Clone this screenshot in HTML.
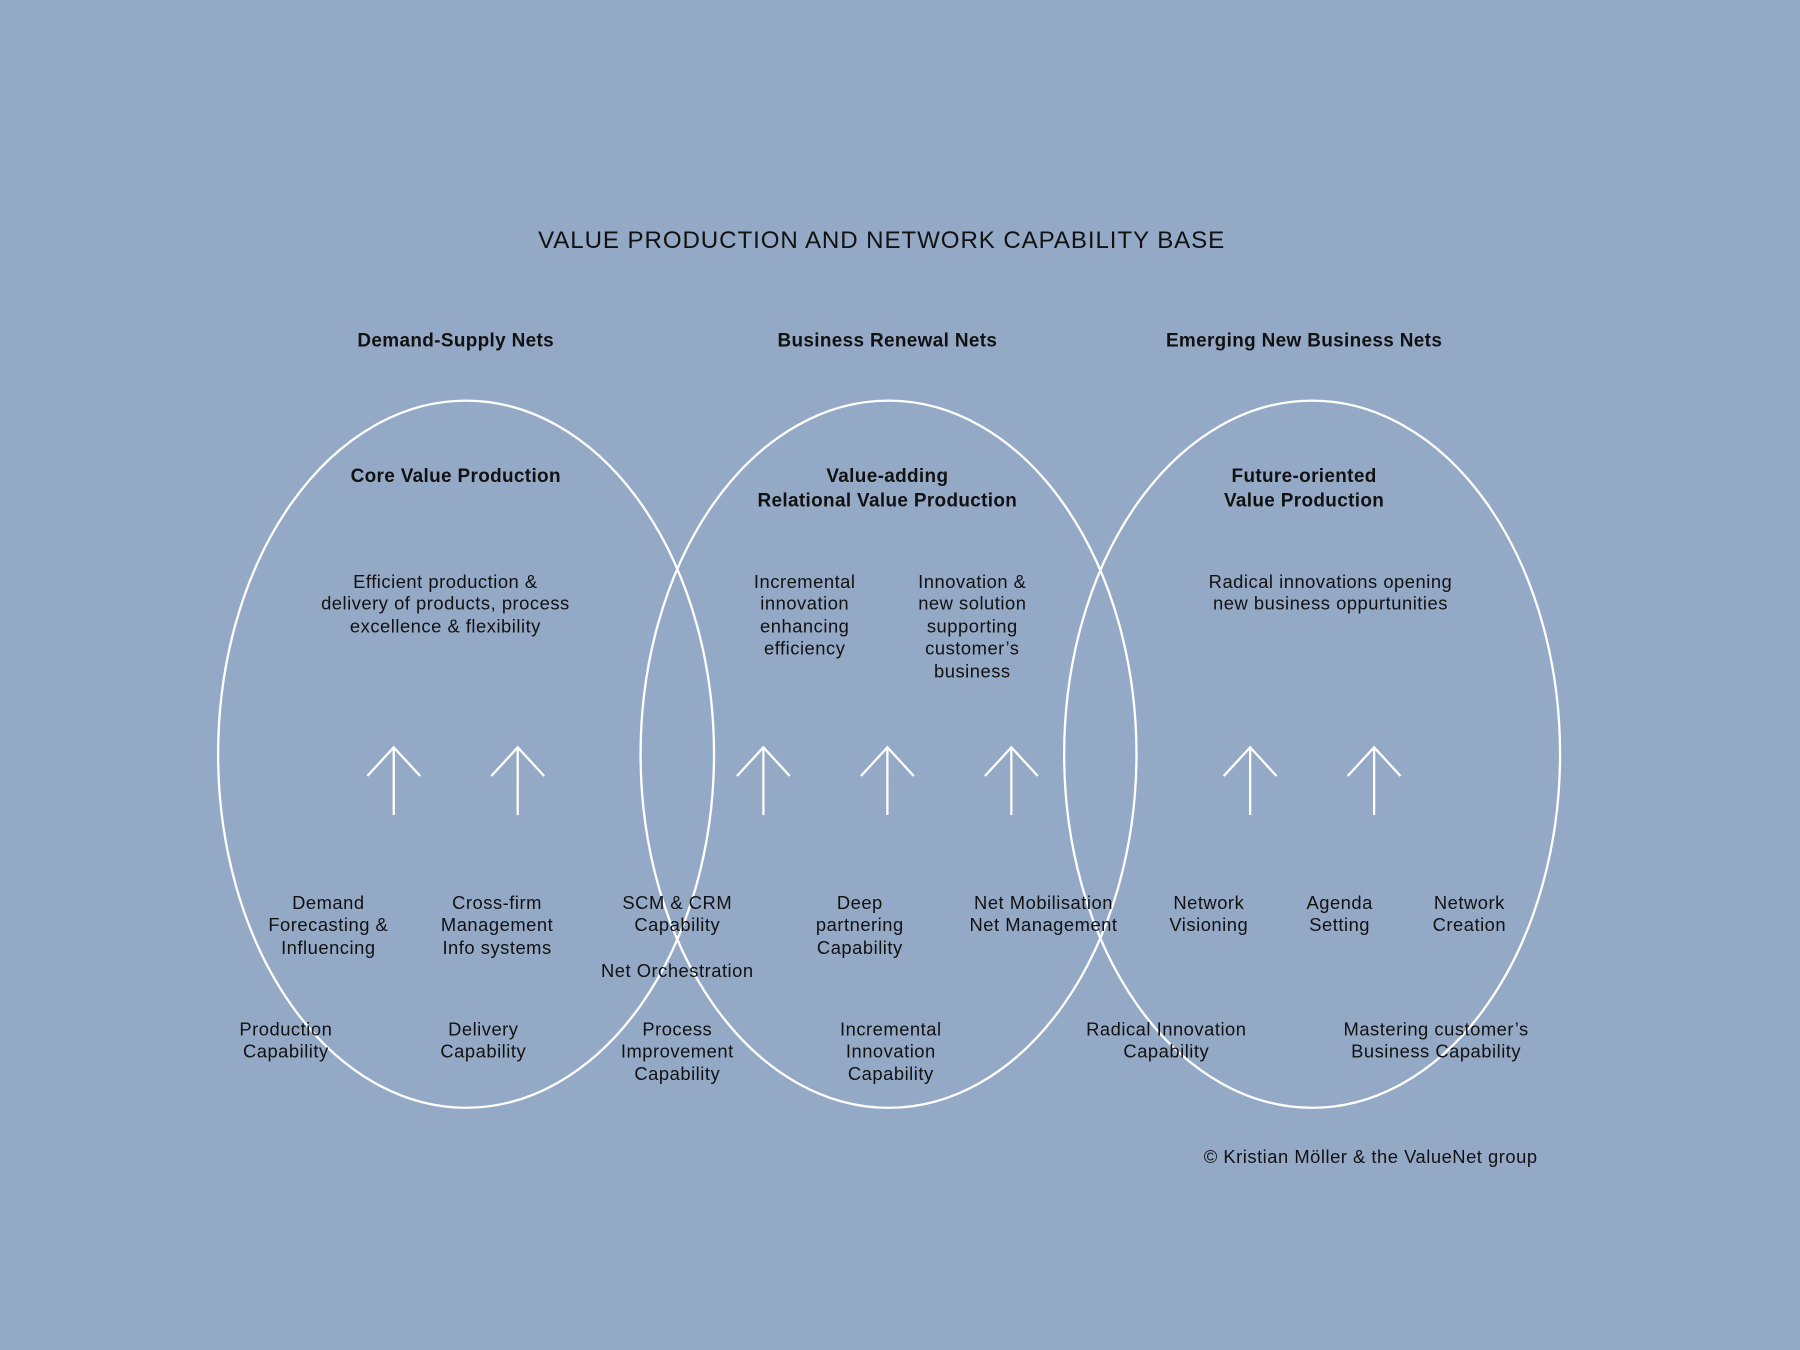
<!DOCTYPE html>
<html><head><meta charset="utf-8"><style>
html,body{margin:0;padding:0;background:#94a9c6;}
svg{display:block}
text{font-family:"Liberation Sans",sans-serif;fill:#111;font-size:16px;text-anchor:middle;letter-spacing:0.45px}
.b{font-weight:bold;font-size:16.5px;letter-spacing:0.3px}
</style></head><body>
<svg width="1800" height="1350" viewBox="0 0 1568 1176" xmlns="http://www.w3.org/2000/svg">
<rect width="1568" height="1176" fill="#94a9c6"/>
<g fill="none" stroke="#fff" stroke-width="2">
<ellipse cx="406" cy="657" rx="216" ry="308"/>
<ellipse cx="774" cy="657" rx="216" ry="308"/>
<ellipse cx="1143" cy="657" rx="216" ry="308"/>
<g id="a"><path d="M343 710V651M320 676L343 651L366 676"/></g>
<use href="#a" x="108"/><use href="#a" x="322"/><use href="#a" x="430"/><use href="#a" x="538"/><use href="#a" x="746"/><use href="#a" x="854"/>
</g>
<text x="768" y="216" style="font-size:21px;letter-spacing:0.8px">VALUE PRODUCTION AND NETWORK CAPABILITY BASE</text>
<text class="b" x="397" y="302">Demand-Supply Nets</text>
<text class="b" x="773" y="302">Business Renewal Nets</text>
<text class="b" x="1136" y="302">Emerging New Business Nets</text>
<text class="b" x="397" y="420">Core Value Production</text>
<text class="b" x="773" y="420">Value-adding</text>
<text class="b" x="773" y="441">Relational Value Production</text>
<text class="b" x="1136" y="420">Future-oriented</text>
<text class="b" x="1136" y="441">Value Production</text>
<text x="388" y="512">Efficient production &amp;</text>
<text x="388" y="531">delivery of products, process</text>
<text x="388" y="551">excellence &amp; flexibility</text>
<text x="701" y="512">Incremental</text><text x="701" y="531">innovation</text><text x="701" y="551">enhancing</text><text x="701" y="570">efficiency</text>
<text x="847" y="512">Innovation &amp;</text><text x="847" y="531">new solution</text><text x="847" y="551">supporting</text><text x="847" y="570">customer’s</text><text x="847" y="590">business</text>
<text x="1159" y="512">Radical innovations opening</text><text x="1159" y="531">new business oppurtunities</text>
<text x="286" y="792">Demand</text><text x="286" y="811">Forecasting &amp;</text><text x="286" y="831">Influencing</text>
<text x="433" y="792">Cross-firm</text><text x="433" y="811">Management</text><text x="433" y="831">Info systems</text>
<text x="590" y="792">SCM &amp; CRM</text><text x="590" y="811">Capability</text>
<text x="590" y="851">Net Orchestration</text>
<text x="749" y="792">Deep</text><text x="749" y="811">partnering</text><text x="749" y="831">Capability</text>
<text x="909" y="792">Net Mobilisation</text><text x="909" y="811">Net Management</text>
<text x="1053" y="792">Network</text><text x="1053" y="811">Visioning</text>
<text x="1167" y="792">Agenda</text><text x="1167" y="811">Setting</text>
<text x="1280" y="792">Network</text><text x="1280" y="811">Creation</text>
<text x="249" y="902">Production</text><text x="249" y="921">Capability</text>
<text x="421" y="902">Delivery</text><text x="421" y="921">Capability</text>
<text x="590" y="902">Process</text><text x="590" y="921">Improvement</text><text x="590" y="941">Capability</text>
<text x="776" y="902">Incremental</text><text x="776" y="921">Innovation</text><text x="776" y="941">Capability</text>
<text x="1016" y="902">Radical Innovation</text><text x="1016" y="921">Capability</text>
<text x="1251" y="902">Mastering customer’s</text><text x="1251" y="921">Business Capability</text>
<text x="1194" y="1013">© Kristian Möller &amp; the ValueNet group</text>
</svg>
</body></html>
